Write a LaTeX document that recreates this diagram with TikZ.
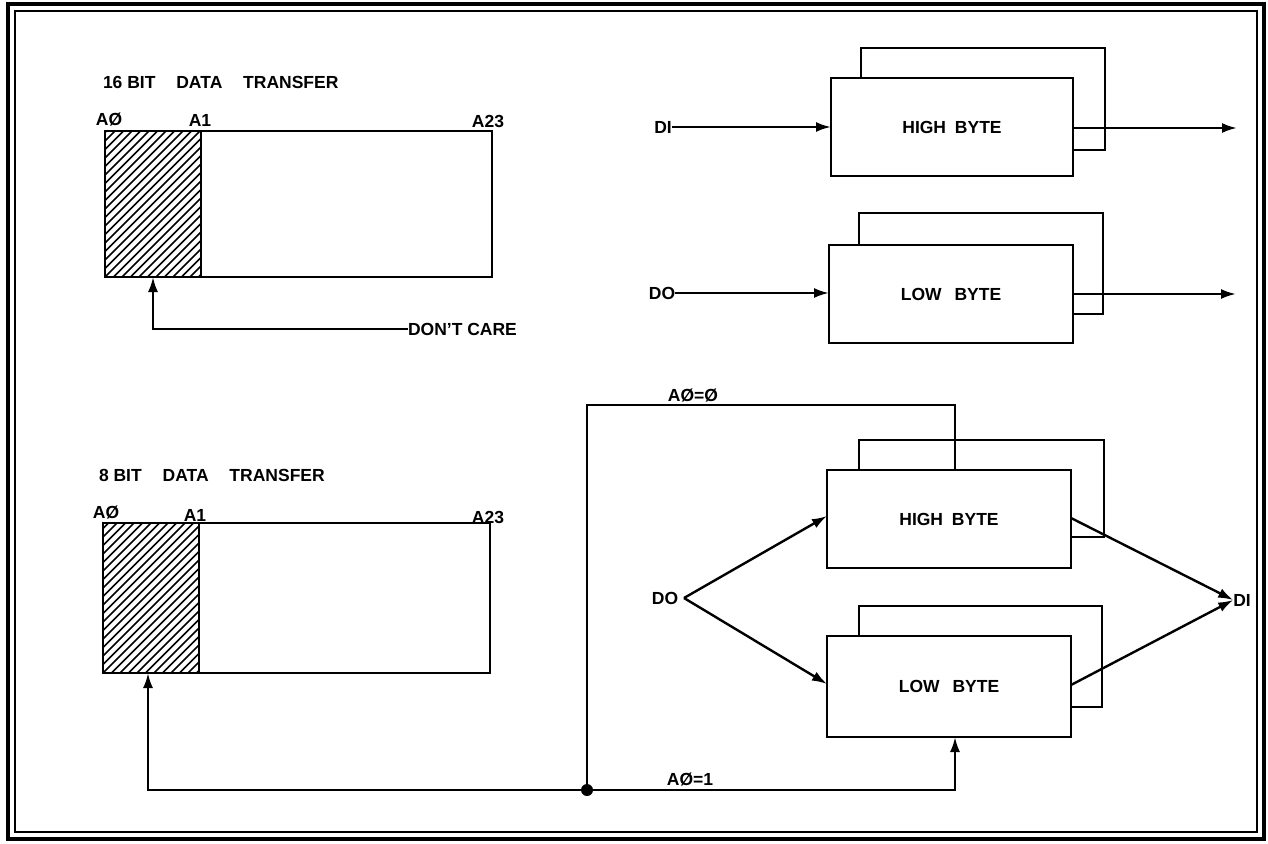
\documentclass[tikz,border=0pt]{standalone}
\usepackage{fontspec}
\setmainfont{Liberation Sans}
\usetikzlibrary{arrows.meta}
\begin{document}
\begin{tikzpicture}[x=1pt,y=-1pt,
  lw/.style={line width=2.4pt},
  lbl/.style={font=\fontsize{17.5}{20}\selectfont\bfseries, inner sep=0pt, outer sep=0pt},
  frontbox/.style={draw, lw, fill=white, minimum width=243pt, minimum height=98pt, inner sep=0pt, outer sep=0pt, font=\fontsize{17.5}{20}\selectfont\bfseries},
  membox/.style={draw, lw, minimum width=387pt, minimum height=146pt, inner sep=0pt, outer sep=0pt},
  arr/.style={lw, -{Latex[length=15pt,width=10pt]}},
  conn/.style={lw}
]
\useasboundingbox (0,0) rectangle (1268,843);
% border
\draw[line width=3.2pt] (8,4) rectangle (1264,839);
\draw[line width=2.4pt] (15,11) rectangle (1257,832);

% ---------------- 16 bit section ----------------
\node[lbl, anchor=west] (t16) at (103,82) {16 BIT\hspace{16pt} DATA\hspace{16pt} TRANSFER};
\begin{scope}
  \clip (105,131) rectangle (201,277);
  \foreach \i in {-20,...,14} \draw[line width=1.7pt] (105+8.5*\i,277) -- (251+8.5*\i,131);
\end{scope}
\node[membox, anchor=north west] (mem1) at (105,131) {};
\draw[lw] (201,131) -- (201,277);
\node[lbl] (a0u) at (109,120) {AØ};
\node[lbl] (a1u) at (200,120) {A1};
\node[lbl] (a23u) at (488,121) {A23};
\coordinate (p1) at (153,277);
\node[lbl, anchor=west] (dc) at (408,329) {DON'T CARE};
\draw[arr] (dc.west) -| (p1);

% upper right boxes
\draw[lw] (861,78) |- (1105,48) |- (1073,150);
\node[frontbox, minimum width=242pt] (hb1) at (952,127) {HIGH\hspace{4pt} BYTE};
\draw[lw] (859,245) |- (1103,213) |- (1073,314);
\node[frontbox, minimum width=244pt] (lb1) at (951,294) {LOW\hspace{8pt} BYTE};

\node[lbl] (di1) at (663,127) {DI};
\node[lbl] (do1) at (662,293) {DO};
\coordinate (o1) at (1237,128);
\coordinate (o2) at (1236,294);
\draw[arr] (di1.east) -- (hb1.west |- di1.east);
\draw[arr] (do1.east) -- (lb1.west |- do1.east);
\draw[arr] (hb1.east |- o1) -- (o1);
\draw[arr] (lb1.east |- o2) -- (o2);

% ---------------- 8 bit section ----------------
\node[lbl, anchor=west] (t8) at (99,475) {8 BIT\hspace{16pt} DATA\hspace{16pt} TRANSFER};
\begin{scope}
  \clip (103,523) rectangle (199,673);
  \foreach \i in {-20,...,14} \draw[line width=1.7pt] (103+8.5*\i,673) -- (253+8.5*\i,523);
\end{scope}
\node[membox, minimum width=387pt, minimum height=150pt, anchor=north west] (mem2) at (103,523) {};
\draw[lw] (199,523) -- (199,673);
\node[lbl] (a0l) at (106,513) {AØ};
\node[lbl] (a1l) at (195,515) {A1};
\node[lbl] (a23l) at (488,517) {A23};
\coordinate (p2) at (148,673);

% lower right boxes
\draw[lw] (859,470) |- (1104,440) |- (1071,537);
\node[frontbox, minimum width=244pt] (hb2) at (949,519) {HIGH\hspace{4pt} BYTE};
\draw[lw] (859,636) |- (1102,606) |- (1071,707);
\node[frontbox, minimum width=244pt, minimum height=101pt] (lb2) at (949,686.5) {LOW\hspace{8pt} BYTE};

\node[lbl] (do2) at (665,598) {DO};
\node[lbl] (di2) at (1242,600) {DI};
\coordinate (v) at (684,598);
\coordinate (inH) at (827,516);
\coordinate (inL) at (827,684);
\draw[arr] (v) -- (inH);
\draw[arr] (v) -- (inL);
\coordinate (outH) at (1071,518);
\coordinate (outL) at (1071,685);
\draw[arr] (outH) -- (di2.west);
\draw[arr] (outL) -- (di2.west);

% select lines
\coordinate (junc) at (587,790);
\coordinate (topH) at (955,470);
\coordinate (botL) at (955,737);
\draw[conn] (junc) |- (955,405) -- (topH);
\draw[arr] (junc) -| (botL);
\draw[arr] (junc) -| (p2);
\fill (junc) circle (6pt);
\node[lbl] (a00) at (693,396) {AØ=Ø};
\node[lbl] (a01) at (690,780) {AØ=1};
\end{tikzpicture}
\end{document}
